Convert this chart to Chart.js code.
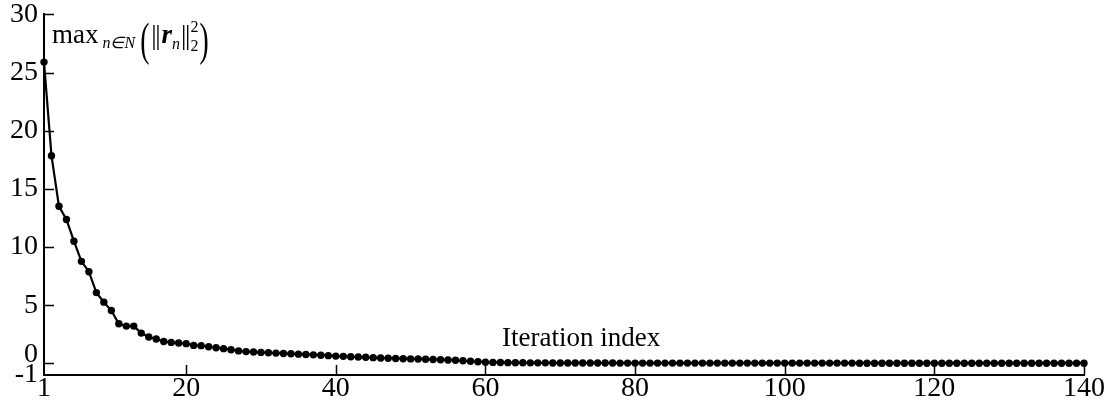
<!DOCTYPE html>
<html>
<head>
<meta charset="utf-8">
<script src="https://cdn.jsdelivr.net/npm/chart.js@4.4.1/dist/chart.umd.min.js"></script>
<style>
  html, body { margin: 0; padding: 0; background: #fff; }
  #wrap { width: 1114px; height: 403px; position: relative; }
</style>
</head>
<body>
<div id="wrap"><canvas id="chart"></canvas></div>
<script>
// max residual per iteration
const maxResidual = [
  25.9, 17.85, 13.5, 12.36, 10.5, 8.77, 7.88, 6.08, 5.26, 4.54,
  3.40, 3.20, 3.20, 2.60, 2.26, 2.09, 1.88, 1.80, 1.75, 1.69,
  1.54, 1.52, 1.43, 1.34, 1.26, 1.17, 1.07, 1.01, 0.97, 0.94,
  0.91, 0.88, 0.85, 0.82, 0.79, 0.76, 0.73, 0.70, 0.66, 0.62,
  0.60, 0.57, 0.54, 0.52, 0.49, 0.46, 0.44, 0.42, 0.40, 0.38,
  0.37, 0.35, 0.33, 0.31, 0.29, 0.26, 0.22, 0.18, 0.14, 0.10,
  0.08, 0.07, 0.06, 0.05, 0.05, 0.04, 0.04, 0.04, 0.03, 0.03,
  0.03, 0.03, 0.03, 0.03, 0.03, 0.03, 0.03, 0.02, 0.02, 0.02,
  0.02, 0.02, 0.02, 0.02, 0.02, 0.02, 0.02, 0.02, 0.02, 0.02,
  0.02, 0.02, 0.02, 0.02, 0.02, 0.02, 0.02, 0.02, 0.02, 0.02,
  0.02, 0.02, 0.02, 0.02, 0.02, 0.02, 0.02, 0.02, 0.02, 0.01,
  0.01, 0.01, 0.01, 0.01, 0.01, 0.01, 0.01, 0.01, 0.01, 0.01,
  0.01, 0.01, 0.01, 0.01, 0.01, 0.01, 0.01, 0.01, 0.01, 0.01,
  0.01, 0.01, 0.01, 0.01, 0.01, 0.01, 0.01, 0.01, 0.01, 0.01
];
const iterations = maxResidual.map((v, i) => i + 1);
const xTicks = [1, 20, 40, 60, 80, 100, 120, 140];
const yTicks = [-1, 0, 5, 10, 15, 20, 25, 30];
const xTitle = "Iteration index";

const serif = '"Liberation Serif", "Times New Roman", serif';

// tall, thin bracket for the y label
function drawParen(ctx, ch, x, y) {
  ctx.save();
  ctx.font = "46px " + serif;
  ctx.translate(x, y);
  ctx.scale(0.6, 1);
  ctx.fillText(ch, 0, 0);
  ctx.restore();
  return ctx.measureText(ch).width; // measured in caller's font, only approximate
}

// inward tick marks + the two in-plot labels
const extras = {
  id: "extras",
  afterDraw(chart) {
    const ctx = chart.ctx;
    const xs = chart.scales.x, ys = chart.scales.y;
    const area = chart.chartArea;
    ctx.save();
    ctx.strokeStyle = "#000";
    ctx.lineWidth = 1.5;
    ctx.beginPath();
    yTicks.forEach((v) => {
      if (v === -1) return;
      const py = Math.round(ys.getPixelForValue(v)) + 0.5;
      ctx.moveTo(area.left, py);
      ctx.lineTo(area.left + 10, py);
    });
    xTicks.forEach((v) => {
      if (v === 1) return;
      const px = Math.round(xs.getPixelForValue(v)) + 0.5;
      ctx.moveTo(px, area.bottom);
      ctx.lineTo(px, area.bottom - 10);
    });
    ctx.stroke();

    ctx.fillStyle = "#000";
    ctx.textBaseline = "alphabetic";
    ctx.textAlign = "center";
    ctx.font = "27px " + serif;
    ctx.fillText(xTitle, xs.getPixelForValue(72.8), area.bottom - 29);

    // max_{n∈N} ( ||r_n||_2^2 )
    ctx.textAlign = "left";
    let x = area.left + 8;
    const base = area.top + 29;
    ctx.font = "27px " + serif;
    ctx.fillText("max", x, base);
    x += ctx.measureText("max").width + 4;
    ctx.font = "italic 16px " + serif;
    ctx.fillText("n\u2208N", x, base + 5);
    x += ctx.measureText("n\u2208N").width + 5;
    drawParen(ctx, "(", x, base + 12);
    x += 11;
    ctx.font = "27px " + serif;
    ctx.fillText("|", x, base + 1);
    ctx.fillText("|", x + 4, base + 1);
    x += ctx.measureText("|").width + 5;
    ctx.font = "bold italic 27px " + serif;
    ctx.fillText("r", x, base);
    x += ctx.measureText("r").width;
    ctx.font = "italic 16px " + serif;
    ctx.fillText("n", x, base + 6);
    x += ctx.measureText("n").width + 1;
    ctx.font = "27px " + serif;
    ctx.fillText("|", x, base + 1);
    ctx.fillText("|", x + 4, base + 1);
    x += ctx.measureText("|").width + 4;
    ctx.font = "16px " + serif;
    ctx.fillText("2", x, base - 11);
    ctx.fillText("2", x, base + 8);
    x += ctx.measureText("2").width + 1;
    drawParen(ctx, ")", x, base + 12);
    ctx.restore();
  }
};

new Chart(document.getElementById("chart"), {
  type: "line",
  data: {
    datasets: [
      {
        data: iterations.map((it, i) => ({ x: it, y: maxResidual[i] })),
        borderColor: "#000",
        borderWidth: 2.2,
        backgroundColor: "#000",
        pointBackgroundColor: "#000",
        pointBorderWidth: 0,
        pointRadius: 3.7,
        tension: 0,
        clip: false,
      },
    ],
  },
  options: {
    responsive: true,
    maintainAspectRatio: false,
    animation: false,
    layout: { padding: { left: 4, right: 30, top: 13, bottom: 0 } },
    plugins: {
      legend: { display: false },
      tooltip: { enabled: false },
    },
    scales: {
      x: {
        type: "linear",
        min: 1,
        max: 140,
        afterBuildTicks: (s) => { s.ticks = xTicks.map((v) => ({ value: v })); },
        grid: { display: false, drawTicks: false, tickLength: 0 },
        border: { display: true, color: "#000", width: 2 },
        ticks: {
          color: "#000",
          autoSkip: false,
          maxRotation: 0,
          padding: 1,
          font: { family: serif, size: 28, lineHeight: 0.93 },
        },
      },
      y: {
        min: -1,
        max: 30,
        afterBuildTicks: (s) => { s.ticks = yTicks.map((v) => ({ value: v })); },
        grid: { display: false, drawTicks: false, tickLength: 0 },
        border: { display: true, color: "#000", width: 2 },
        ticks: {
          color: "#000",
          padding: 6,
          // lift the "0" a little so it clears the "-1"
          callback: (v) => (v === 0 ? ["0", ""] : String(v)),
          font: { family: serif, size: 28, lineHeight: 0.6 },
        },
      },
    },
  },
  plugins: [extras],
});
</script>
</body>
</html>
